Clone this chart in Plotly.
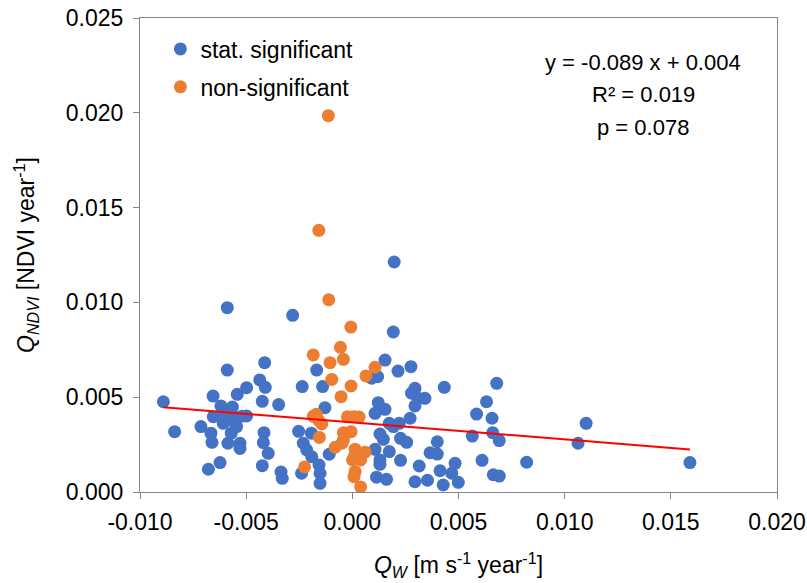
import plotly.graph_objects as go
import numpy as np

# ---- data ----
sig_x = [-0.00890, -0.00837, -0.00713, -0.00656, -0.00619, -0.00565, -0.00542, -0.00498,
         -0.00436, -0.00410, -0.00424, -0.00347, -0.00498, -0.00655, -0.00666, -0.00661,
         -0.00586, -0.00529, -0.00529, -0.00570, -0.00545, -0.00608, -0.00416, -0.00419,
         -0.00396, -0.00424, -0.00623, -0.00678, -0.00336, -0.00330, -0.00236, -0.00140,
         -0.00129, -0.00253, -0.00193, -0.00231, -0.00215, -0.00191, -0.00157, -0.00152,
         -0.00152, -0.00239, -0.00109, -0.00589, -0.00281, -0.00413, -0.00589, -0.00168,
         0.00197, 0.00193, 0.00154, 0.00276, 0.00215, 0.00119, 0.00091, 0.00433,
         0.00680, 0.00295, 0.00279, 0.00342, 0.00311, 0.00295, 0.00122, 0.00154,
         0.00107, 0.00272, 0.00174, 0.00221, 0.00193, 0.00585, 0.00632, 0.00658,
         0.00565, 0.00661, 0.00692, 0.00130, 0.00146, 0.00227, 0.00256, 0.00400,
         0.00107, 0.00174, 0.00130, 0.00130, 0.00227, 0.00366, 0.00400, 0.00315,
         0.00413, 0.00484, 0.00468, 0.00499, 0.00611, 0.00821, 0.00664, 0.00692,
         0.00114, 0.00161, 0.00295, 0.00354, 0.00428, 0.01101, 0.01063, 0.01590,
         -0.00580, -0.00600, -0.00555, -0.00520]
sig_y = [0.00476, 0.00318, 0.00345, 0.00506, 0.00454, 0.00448, 0.00515, 0.00550,
         0.00591, 0.00552, 0.00478, 0.00461, 0.00401, 0.00397, 0.00310, 0.00262,
         0.00257, 0.00257, 0.00230, 0.00310, 0.00345, 0.00362, 0.00313, 0.00260,
         0.00204, 0.00139, 0.00155, 0.00120, 0.00105, 0.00072, 0.00556, 0.00556,
         0.00445, 0.00320, 0.00310, 0.00257, 0.00222, 0.00186, 0.00142, 0.00099,
         0.00046, 0.00099, 0.00199, 0.00972, 0.00932, 0.00682, 0.00643, 0.00643,
         0.01213, 0.00844, 0.00696, 0.00661, 0.00638, 0.00608, 0.00600, 0.00552,
         0.00573, 0.00547, 0.00521, 0.00494, 0.00494, 0.00454, 0.00471, 0.00436,
         0.00415, 0.00389, 0.00362, 0.00362, 0.00345, 0.00411, 0.00476, 0.00389,
         0.00295, 0.00313, 0.00271, 0.00306, 0.00278, 0.00283, 0.00262, 0.00265,
         0.00225, 0.00213, 0.00169, 0.00146, 0.00167, 0.00207, 0.00200, 0.00137,
         0.00112, 0.00151, 0.00099, 0.00051, 0.00167, 0.00157, 0.00091, 0.00084,
         0.00078, 0.00067, 0.00054, 0.00062, 0.00037, 0.00362, 0.00257, 0.00155,
         0.00380, 0.00410, 0.00395, 0.00400]

nonsig_x = [-0.00113, -0.00158, -0.00111, -0.00007, -0.00184, -0.00105, -0.00056, -0.00042,
            -0.00097, -0.00006, -0.00053, 0.00107, 0.00064, -0.00184, -0.00160, -0.00144,
            -0.00155, -0.00023, 0.00008, 0.00032, -0.00042, -0.00006, -0.00042, -0.00081,
            -0.00049, 0.00013, 0.00060, 0.00001, 0.00039, 0.00010, 0.00013, 0.00008,
            0.00039, -0.00225, -0.00170]
nonsig_y = [0.01985, 0.01380, 0.01014, 0.00870, 0.00723, 0.00682, 0.00763, 0.00700,
            0.00594, 0.00559, 0.00503, 0.00658, 0.00612, 0.00399, 0.00380, 0.00359,
            0.00288, 0.00397, 0.00397, 0.00395, 0.00313, 0.00318, 0.00274, 0.00236,
            0.00257, 0.00226, 0.00210, 0.00169, 0.00169, 0.00190, 0.00107, 0.00081,
            0.00027, 0.00132, 0.00410]

trend_slope = -0.0895
trend_intercept = 0.00367

x_tickvals = [-0.010, -0.005, 0.000, 0.005, 0.010, 0.015, 0.020]
x_ticktext = ["-0.010", "-0.005", "0.000", "0.005", "0.010", "0.015", "0.020"]
y_tickvals = [0.000, 0.005, 0.010, 0.015, 0.020, 0.025]
y_ticktext = ["0.000", "0.005", "0.010", "0.015", "0.020", "0.025"]

stats_lines = ["y = -0.089 x + 0.004", "R² = 0.019", "p = 0.078"]

FONT = "Liberation Sans"
BLUE = "#4472C4"
ORANGE = "#ED7D31"
AXIS = "#868686"

all_x = sig_x + nonsig_x
tx = np.array([min(all_x), max(all_x)])
ty = trend_slope * tx + trend_intercept

fig = go.Figure()
fig.add_trace(go.Scatter(x=sig_x, y=sig_y, mode="markers", name="stat. significant",
                         legendgroup="sig",
                         marker=dict(color=BLUE, size=13, line=dict(width=0))))
fig.add_trace(go.Scatter(x=nonsig_x, y=nonsig_y, mode="markers", name="non-significant",
                         legendgroup="nonsig",
                         marker=dict(color=ORANGE, size=13, line=dict(width=0))))
fig.add_trace(go.Scatter(x=tx, y=ty, mode="lines", showlegend=False,
                         line=dict(color="#FF0000", width=2)))

for i, t in enumerate(stats_lines):
    fig.add_annotation(x=0.79, y=0.907 - i * 0.069, xref="paper", yref="paper",
                       text=t, showarrow=False, xanchor="center", yanchor="middle",
                       font=dict(family=FONT, size=22, color="black"))

fig.update_layout(
    width=807, height=583,
    margin=dict(l=140, r=30, t=18, b=91),
    paper_bgcolor="white", plot_bgcolor="white",
    font=dict(family=FONT, size=23, color="black"),
    legend=dict(x=0.032, y=0.98, xanchor="left", yanchor="top",
                bgcolor="rgba(0,0,0,0)", tracegroupgap=5, traceorder="grouped",
                font=dict(family=FONT, size=23, color="black")),
    xaxis=dict(range=[-0.010, 0.020], tickvals=x_tickvals, ticktext=x_ticktext,
               automargin=False,
               showgrid=False, zeroline=False, showline=True, linecolor=AXIS,
               linewidth=1, mirror=True, ticks="outside", ticklen=6, tickcolor=AXIS,
               ticklabelstandoff=3,
               tickfont=dict(family=FONT, size=23),
               title=dict(text="<i>Q</i><sub><i>W</i></sub> [m s<sup>-1</sup> year<sup>-1</sup>]",
                          font=dict(family=FONT, size=23), standoff=23)),
    yaxis=dict(range=[0, 0.025], tickvals=y_tickvals, ticktext=y_ticktext,
               automargin=False,
               showgrid=False, zeroline=False, showline=True, linecolor=AXIS,
               linewidth=1, mirror=True, ticks="outside", ticklen=6, tickcolor=AXIS,
               ticklabelstandoff=5,
               tickfont=dict(family=FONT, size=23),
               title=dict(text="<i>Q</i><sub><i>NDVI</i></sub> [NDVI year<sup>-1</sup>]",
                          font=dict(family=FONT, size=23), standoff=24)),
)

fig.write_html("out.html")
